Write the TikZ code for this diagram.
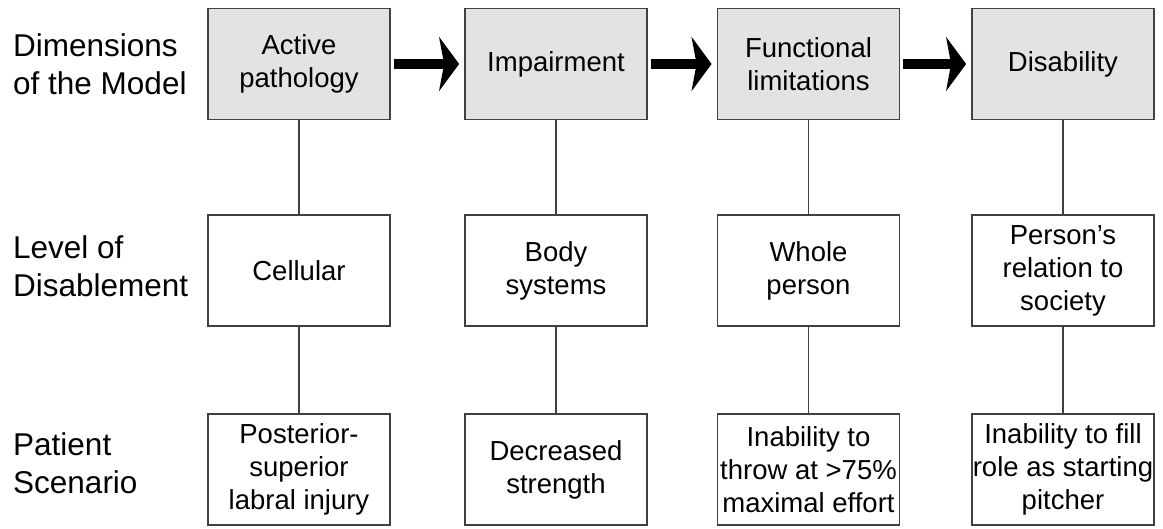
\documentclass[tikz,border=0pt]{standalone}
\usepackage{fontspec}
\setmainfont{Liberation Sans}
\usetikzlibrary{arrows.meta}
\begin{document}
\begin{tikzpicture}[x=1pt,y=-1pt,
 box/.style={draw=black!75, line width=1.8pt, minimum width=182pt, minimum height=111pt, inner sep=0pt, align=center, font=\fontsize{27.5}{33}\selectfont},
 topbox/.style={box, fill=black!11},
 lbl/.style={anchor=west, align=left, inner sep=0pt, font=\fontsize{31.5}{38}\selectfont},
 link/.style={draw=black!75, line width=1.8pt},
 flow/.style={line width=10pt, -{Stealth[length=20pt,width=54pt,inset=5pt]}, shorten <=3pt, shorten >=5pt}]
\useasboundingbox (0,0) rectangle (1163,529);
% left labels
\node[lbl] (l1) at (13,64) {Dimensions\\of the Model};
\node[lbl] (l2) at (13,266) {Level of\\Disablement};
\node[lbl] (l3) at (13,463) {Patient\\Scenario};
% top row
\node[topbox] (t1) at (299,64) {Active\\pathology};
\node[topbox] (t2) at (556,64) {Impairment};
\node[topbox] (t3) at (808.5,64) {Functional\\limitations};
\node[topbox] (t4) at (1063,64) {Disability};
% middle row
\node[box] (m1) at (299,270.5) {Cellular};
\node[box] (m2) at (556,270.5) {Body\\systems};
\node[box] (m3) at (808.5,270.5) {Whole\\person};
\node[box] (m4) at (1063,270.5) {Person’s\\relation to\\society};
% bottom row
\node[box] (b1) at (299,469.5) {Posterior-\\superior\\labral injury};
\node[box] (b2) at (556,469.5) {Decreased\\strength};
\node[box] (b3) at (808.5,469.5) {Inability to\\throw at >75\%\\maximal effort};
\node[box] (b4) at (1063,469.5) {Inability to fill\\role as starting\\pitcher};
% arrows
\draw[flow] (t1) -- (t2);
\draw[flow] (t2) -- (t3);
\draw[flow] (t3) -- (t4);
% links
\foreach \i in {1,2,3,4}{
  \draw[link] (t\i) -- (m\i);
  \draw[link] (m\i) -- (b\i);
}
\end{tikzpicture}
\end{document}
